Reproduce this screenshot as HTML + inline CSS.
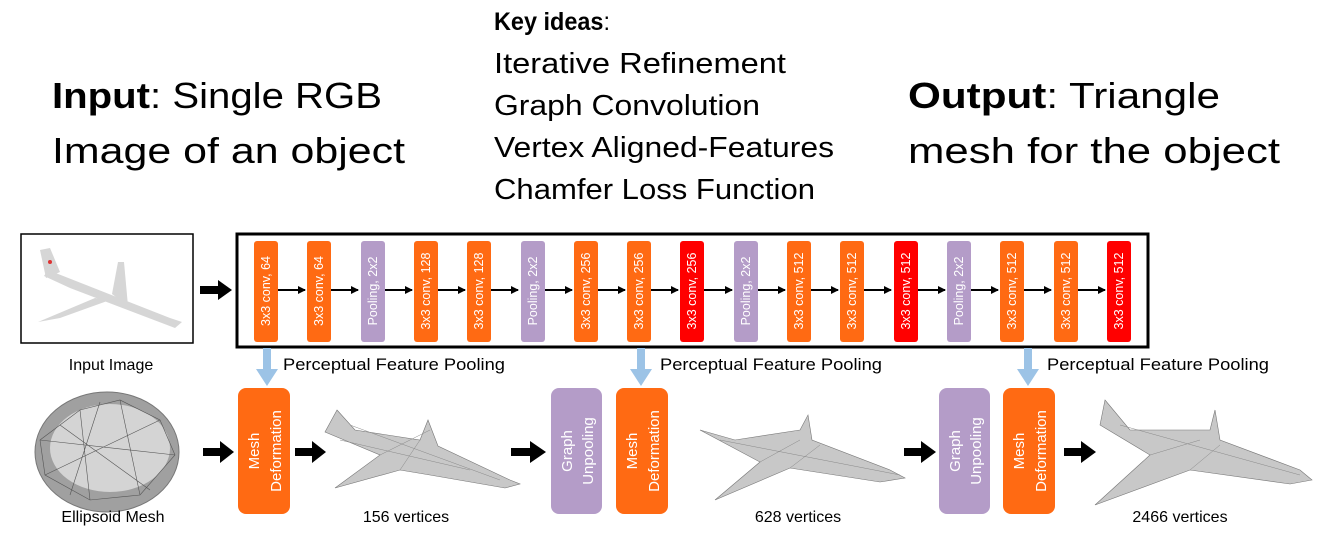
<!DOCTYPE html>
<html><head><meta charset="utf-8"><style>
html,body{margin:0;padding:0;background:#fff;}
svg{display:block;font-family:"Liberation Sans",sans-serif;}
</style></head><body>
<svg width="1340" height="558" viewBox="0 0 1340 558" xmlns="http://www.w3.org/2000/svg">
<defs>
<marker id="ah" markerWidth="8" markerHeight="8" refX="7" refY="4" orient="auto" markerUnits="userSpaceOnUse"><path d="M0,0 L8,4 L0,8 Z" fill="#000"/></marker>
</defs>
<text x="52" y="108" font-size="36" textLength="330" lengthAdjust="spacingAndGlyphs"><tspan font-weight="bold">Input</tspan>: Single RGB</text>
<text x="52" y="163" font-size="36" textLength="353" lengthAdjust="spacingAndGlyphs">Image of an object</text>
<text x="908" y="108" font-size="36" textLength="312" lengthAdjust="spacingAndGlyphs"><tspan font-weight="bold">Output</tspan>: Triangle</text>
<text x="908" y="163" font-size="36" textLength="372" lengthAdjust="spacingAndGlyphs">mesh for the object</text>
<text x="494" y="30" font-size="25" textLength="116" lengthAdjust="spacingAndGlyphs"><tspan font-weight="bold">Key ideas</tspan>:</text>
<text x="494" y="73" font-size="29" textLength="292" lengthAdjust="spacingAndGlyphs">Iterative Refinement</text>
<text x="494" y="115" font-size="29" textLength="266" lengthAdjust="spacingAndGlyphs">Graph Convolution</text>
<text x="494" y="157" font-size="29" textLength="340" lengthAdjust="spacingAndGlyphs">Vertex Aligned-Features</text>
<text x="494" y="199" font-size="29" textLength="321" lengthAdjust="spacingAndGlyphs">Chamfer Loss Function</text>

<rect x="21" y="234" width="172" height="109" fill="#fff" stroke="#000" stroke-width="1.5"/>
<g fill="#d6d6d6">
<polygon points="48,270 170,318 182,322 175,328 70,288 44,276"/>
<polygon points="110,300 60,318 38,322 95,298"/>
<polygon points="112,294 118,262 124,262 128,306"/>
<polygon points="40,250 50,248 60,272 46,278"/>
</g>
<circle cx="50" cy="262" r="2" fill="#d33"/>
<text x="111" y="370" font-size="16" text-anchor="middle">Input Image</text>

<polygon points="200,286 218,286 218,280 232,290 218,300 218,294 200,294" fill="#000"/>

<rect x="237" y="234" width="911" height="113" fill="#fff" stroke="#000" stroke-width="3"/>
<g stroke="#000" stroke-width="2">
<line x1="278" y1="290" x2="305" y2="290" marker-end="url(#ah)"/>
<line x1="331" y1="290" x2="358" y2="290" marker-end="url(#ah)"/>
<line x1="385" y1="290" x2="412" y2="290" marker-end="url(#ah)"/>
<line x1="438" y1="290" x2="465" y2="290" marker-end="url(#ah)"/>
<line x1="491" y1="290" x2="518" y2="290" marker-end="url(#ah)"/>
<line x1="545" y1="290" x2="572" y2="290" marker-end="url(#ah)"/>
<line x1="598" y1="290" x2="625" y2="290" marker-end="url(#ah)"/>
<line x1="651" y1="290" x2="678" y2="290" marker-end="url(#ah)"/>
<line x1="704" y1="290" x2="732" y2="290" marker-end="url(#ah)"/>
<line x1="758" y1="290" x2="785" y2="290" marker-end="url(#ah)"/>
<line x1="811" y1="290" x2="838" y2="290" marker-end="url(#ah)"/>
<line x1="864" y1="290" x2="891" y2="290" marker-end="url(#ah)"/>
<line x1="918" y1="290" x2="945" y2="290" marker-end="url(#ah)"/>
<line x1="971" y1="290" x2="998" y2="290" marker-end="url(#ah)"/>
<line x1="1024" y1="290" x2="1051" y2="290" marker-end="url(#ah)"/>
<line x1="1078" y1="290" x2="1105" y2="290" marker-end="url(#ah)"/>
</g>
<g font-size="12.5" fill="#fff" text-anchor="middle">
<rect x="254" y="241" width="24" height="101" rx="3" fill="#ff6a13"/><text transform="translate(270,291) rotate(-90)">3x3 conv, 64</text>
<rect x="307" y="241" width="24" height="101" rx="3" fill="#ff6a13"/><text transform="translate(323,291) rotate(-90)">3x3 conv, 64</text>
<rect x="361" y="241" width="24" height="101" rx="3" fill="#b49cc8"/><text transform="translate(377,291) rotate(-90)">Pooling, 2x2</text>
<rect x="414" y="241" width="24" height="101" rx="3" fill="#ff6a13"/><text transform="translate(430,291) rotate(-90)">3x3 conv, 128</text>
<rect x="467" y="241" width="24" height="101" rx="3" fill="#ff6a13"/><text transform="translate(483,291) rotate(-90)">3x3 conv, 128</text>
<rect x="521" y="241" width="24" height="101" rx="3" fill="#b49cc8"/><text transform="translate(537,291) rotate(-90)">Pooling, 2x2</text>
<rect x="574" y="241" width="24" height="101" rx="3" fill="#ff6a13"/><text transform="translate(590,291) rotate(-90)">3x3 conv, 256</text>
<rect x="627" y="241" width="24" height="101" rx="3" fill="#ff6a13"/><text transform="translate(643,291) rotate(-90)">3x3 conv, 256</text>
<rect x="680" y="241" width="24" height="101" rx="3" fill="#ff0000"/><text transform="translate(696,291) rotate(-90)">3x3 conv, 256</text>
<rect x="734" y="241" width="24" height="101" rx="3" fill="#b49cc8"/><text transform="translate(750,291) rotate(-90)">Pooling, 2x2</text>
<rect x="787" y="241" width="24" height="101" rx="3" fill="#ff6a13"/><text transform="translate(803,291) rotate(-90)">3x3 conv, 512</text>
<rect x="840" y="241" width="24" height="101" rx="3" fill="#ff6a13"/><text transform="translate(856,291) rotate(-90)">3x3 conv, 512</text>
<rect x="894" y="241" width="24" height="101" rx="3" fill="#ff0000"/><text transform="translate(910,291) rotate(-90)">3x3 conv, 512</text>
<rect x="947" y="241" width="24" height="101" rx="3" fill="#b49cc8"/><text transform="translate(963,291) rotate(-90)">Pooling, 2x2</text>
<rect x="1000" y="241" width="24" height="101" rx="3" fill="#ff6a13"/><text transform="translate(1016,291) rotate(-90)">3x3 conv, 512</text>
<rect x="1054" y="241" width="24" height="101" rx="3" fill="#ff6a13"/><text transform="translate(1070,291) rotate(-90)">3x3 conv, 512</text>
<rect x="1107" y="241" width="24" height="101" rx="3" fill="#ff0000"/><text transform="translate(1123,291) rotate(-90)">3x3 conv, 512</text>
</g>

<g fill="#9cc3e6">
<polygon points="263,348 271,348 271,369 278,369 267,386 256,369 263,369"/>
<polygon points="637,348 645,348 645,369 652,369 641,386 630,369 637,369"/>
<polygon points="1024,348 1032,348 1032,369 1039,369 1028,386 1017,369 1024,369"/>
</g>
<g font-size="16.5">
<text x="283" y="370" textLength="222" lengthAdjust="spacingAndGlyphs">Perceptual Feature Pooling</text>
<text x="660" y="370" textLength="222" lengthAdjust="spacingAndGlyphs">Perceptual Feature Pooling</text>
<text x="1047" y="370" textLength="222" lengthAdjust="spacingAndGlyphs">Perceptual Feature Pooling</text>
</g>

<ellipse cx="107" cy="452" rx="72" ry="60" fill="#a0a0a0" stroke="#777"/>
<ellipse cx="110" cy="448" rx="60" ry="44" fill="#d4d4d4"/>
<g stroke="#555" stroke-width="0.6" fill="none">
<path d="M40,440 L80,410 L120,400 L160,420 L175,455 L140,495 L90,500 L45,475 Z"/>
<path d="M80,410 L90,500 M120,400 L140,495 M40,440 L175,455 M45,475 L160,420 M60,425 L150,490 M100,402 L70,495"/>
</g>
<text x="113" y="522" font-size="16" text-anchor="middle">Ellipsoid Mesh</text>

<g fill="#000">
<polygon points="203,448 220,448 220,441 234,452 220,463 220,456 203,456"/>
<polygon points="295,448 312,448 312,441 326,452 312,463 312,456 295,456"/>
<polygon points="511,448 530,448 530,441 546,452 530,463 530,456 511,456"/>
<polygon points="904,448 921,448 921,441 936,452 921,463 921,456 904,456"/>
<polygon points="1064,448 1081,448 1081,441 1096,452 1081,463 1081,456 1064,456"/>
</g>

<g font-size="15" fill="#fff" text-anchor="middle">
<rect x="238" y="388" width="52" height="126" rx="8" fill="#ff6a13"/>
<text transform="translate(259,451) rotate(-90)">Mesh</text><text transform="translate(281,451) rotate(-90)">Deformation</text>
<rect x="551" y="388" width="51" height="126" rx="8" fill="#b49cc8"/>
<text transform="translate(572,451) rotate(-90)">Graph</text><text transform="translate(593,451) rotate(-90)">Unpooling</text>
<rect x="616" y="388" width="52" height="126" rx="8" fill="#ff6a13"/>
<text transform="translate(637,451) rotate(-90)">Mesh</text><text transform="translate(659,451) rotate(-90)">Deformation</text>
<rect x="939" y="388" width="51" height="126" rx="8" fill="#b49cc8"/>
<text transform="translate(960,451) rotate(-90)">Graph</text><text transform="translate(981,451) rotate(-90)">Unpooling</text>
<rect x="1003" y="388" width="52" height="126" rx="8" fill="#ff6a13"/>
<text transform="translate(1024,451) rotate(-90)">Mesh</text><text transform="translate(1046,451) rotate(-90)">Deformation</text>
</g>

<g fill="#c8c8c8" stroke="#777" stroke-width="0.6">
<polygon points="337,410 355,430 420,440 428,420 438,446 510,480 520,484 505,488 430,475 400,470 335,488 380,455 325,432"/>
<polygon points="700,430 735,440 800,430 808,415 812,440 890,470 905,478 880,482 790,468 715,500 760,462"/>
<polygon points="1105,400 1130,430 1210,430 1215,410 1220,440 1300,470 1312,480 1290,484 1190,470 1095,505 1150,455 1100,425"/>
</g>
<g stroke="#888" stroke-width="0.5" fill="none">
<path d="M350,425 L500,480 M380,455 L430,430 M400,470 L420,440 M340,440 L470,470"/>
<path d="M720,440 L900,475 M760,462 L800,440 M790,468 L820,445"/>
<path d="M1120,425 L1300,475 M1150,455 L1200,440 M1190,470 L1220,445"/>
</g>

<g font-size="16" text-anchor="middle">
<text x="406" y="522">156 vertices</text>
<text x="798" y="522">628 vertices</text>
<text x="1180" y="522">2466 vertices</text>
</g>
</svg>
</body></html>
